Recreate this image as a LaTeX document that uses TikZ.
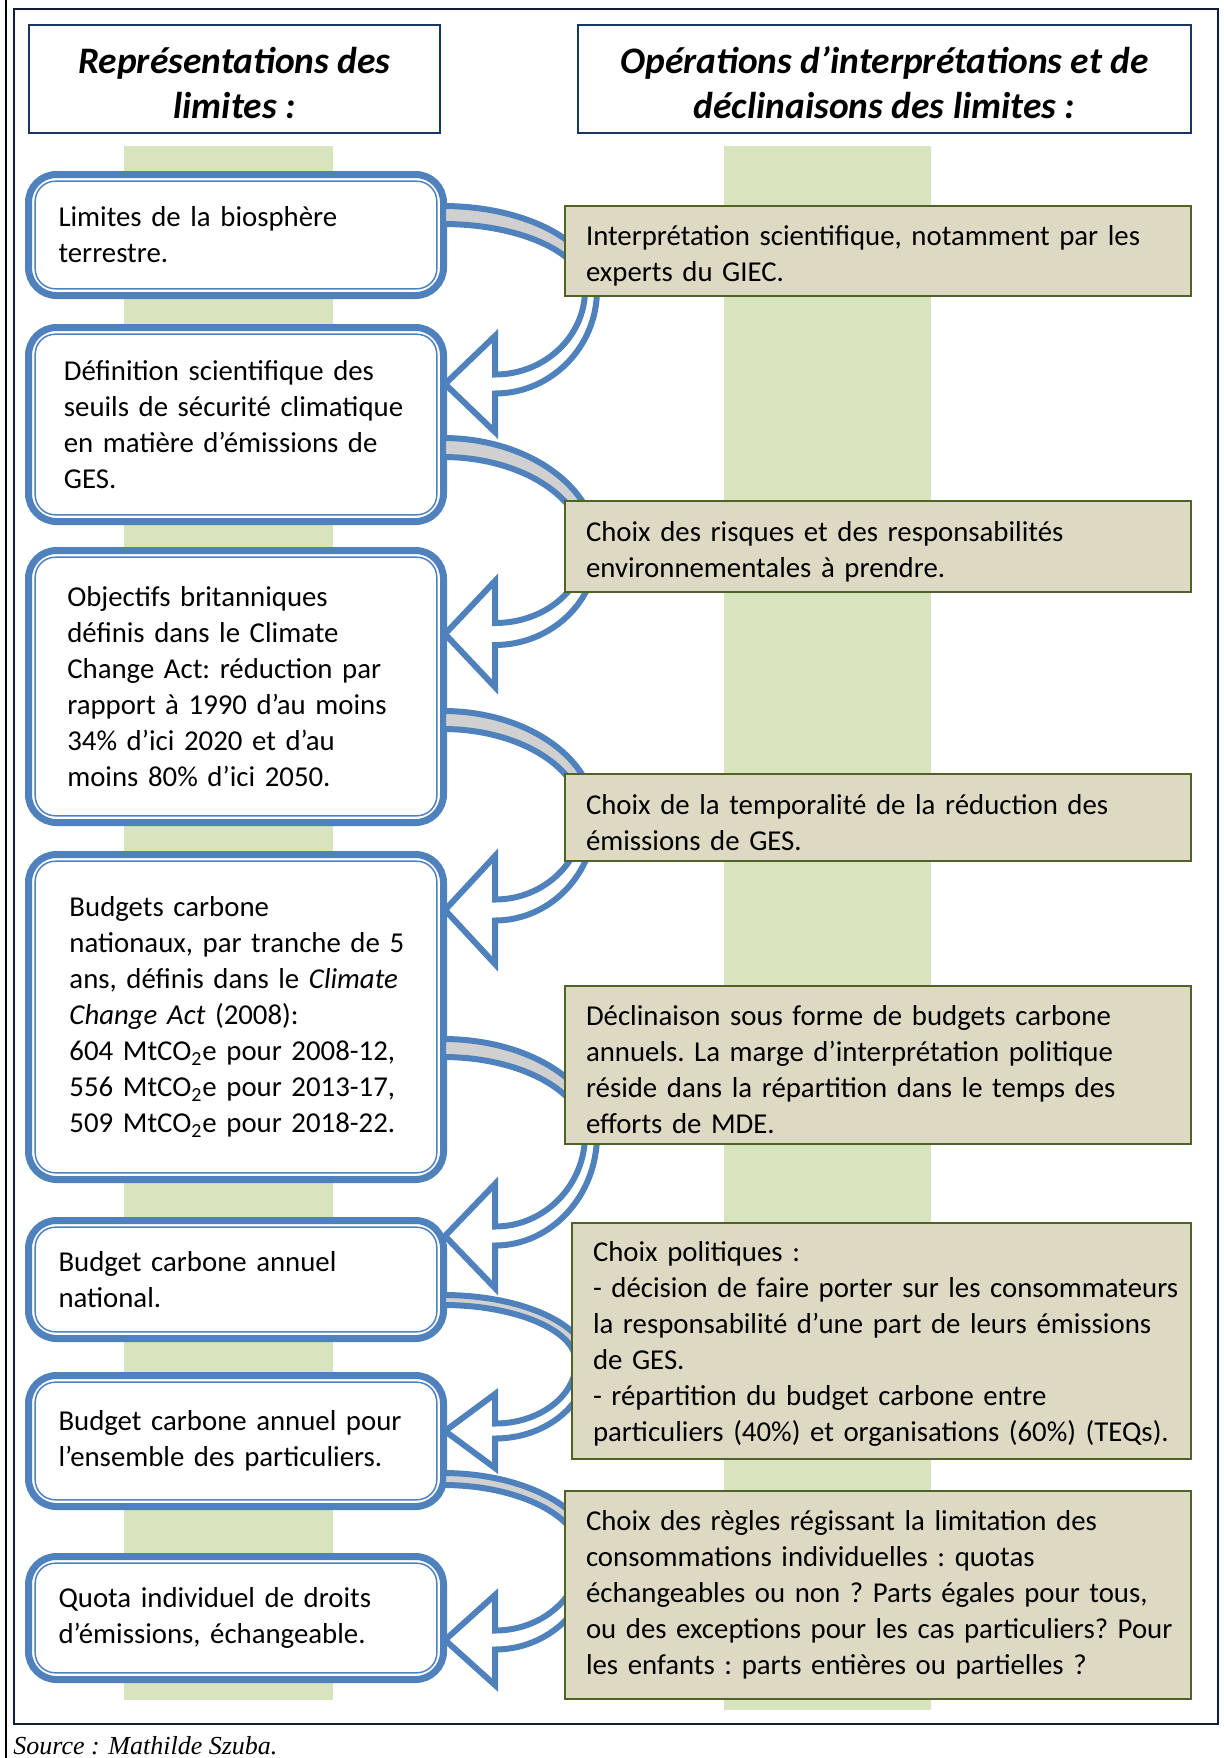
\documentclass[tikz,border=0pt]{standalone}
\usepackage{fontspec}
\setmainfont{Carlito}
\newfontfamily\sourcefont{Liberation Serif}
\usepackage{tikz}
\definecolor{arrblue}{HTML}{4F81BD}
\definecolor{colgreen}{HTML}{D7E4BD}
\definecolor{khaki}{HTML}{DDD9C3}
\definecolor{olivebd}{HTML}{4F6228}
\definecolor{bandgray}{HTML}{D0D0D0}
\definecolor{navyline}{HTML}{17375E}
\definecolor{frameline}{HTML}{0F1F3A}
\newcommand{\bodyfont}{\fontsize{14.4pt}{18pt}\selectfont\frenchspacing}
\newcommand{\headfont}{\fontsize{18.7pt}{22.5pt}\selectfont\bfseries\itshape}
% curved block arrow: band top, band width, right x, middle y, head y, half head, shaft
\newcommand{\limitarrow}[7]{%
  \filldraw[blockarr, fill=bandgray]
    (443,#1) .. controls ({443+0.55*(#3-443)},#1) and (#3,{#4-0.55*(#4-#1)}) .. (#3,#4)
    -- ({#3-12},#4)
    .. controls ({#3-12},{#4-0.55*(#4-#1-#2)}) and ({443+0.55*(#3-455)},{#1+#2}) .. (443,{#1+#2})
    -- cycle;
  \filldraw[blockarr, fill=white]
    (#3,#4) .. controls (#3,{#4+0.55*(#5+#7/2-#4)}) and ({495+0.55*(#3-495)},{#5+#7/2}) .. (495,{#5+#7/2})
    -- (495,{#5+#6}) -- (445,#5) -- (495,{#5-#6}) -- (495,{#5-#7/2})
    .. controls ({495+0.55*(#3-507)},{#5-#7/2}) and ({#3-12},{#4+0.55*(#5-#7/2-#4)}) .. ({#3-12},#4)
    -- cycle;
}

\begin{document}
\begin{tikzpicture}[x=0.5pt, y=-0.5pt,
    lbox/.style={draw=arrblue, line width=3.5pt, rounded corners=14pt, fill=white,
                 outer sep=0pt, minimum width=207.5pt, inner xsep=15pt, inner ysep=3pt,
                 text width=177.5pt, align=left, font=\bodyfont},
    textshift/.style={execute at begin node={\leftskip=#1}},
    lline/.style={draw=arrblue, line width=0.75pt, rounded corners=10pt},
    rbox/.style={draw=olivebd, line width=1.25pt, fill=khaki, outer sep=0pt,
                 minimum width=313pt, inner xsep=10.5pt, inner ysep=3pt,
                 text width=292pt, align=left, font=\bodyfont,
                 execute at begin node={\rightskip=-8pt plus 1fil\rule{0pt}{#1}}},
    rbox/.default=15pt,
    hbox/.style={draw=navyline, line width=1pt, fill=white, minimum height=54pt,
                 align=center, font=\headfont},
    blockarr/.style={draw=arrblue, line width=3pt}
  ]
  \useasboundingbox (0,0) rectangle (1223,1758);
  % Frame
  \draw[line width=1pt] (6,0) -- (6,1758);
  \draw[frameline, line width=1.2pt] (14,9) rectangle (1218,1724);
  % Green columns
  \fill[colgreen] (124,146) rectangle (333,1700);
  \fill[colgreen] (724,146) rectangle (931,1710);
  % Column headers
  \node[hbox, minimum width=205.5pt] (H1) at (234.5,79)
    {\rule{0pt}{17pt}Représentations des\\limites :};
  \node[hbox, minimum width=306.5pt] (H2) at (884.5,79)
    {\rule{0pt}{17pt}Opérations d’interprétations et de\\déclinaisons des limites :};
  % Representations of the limits
  \node[lbox, minimum height=60.5pt] (L1) at (236,235)
    {Limites de la biosphère\\terrestre.};
  \node[lbox, textshift=2.7pt, minimum height=97pt] (L2) at (236,424.5)
    {Définition scientifique des\\seuils de sécurité climatique\\en matière d’émissions de\\GES.};
  \node[lbox, textshift=4.4pt, minimum height=136pt] (L3) at (236,686.5)
    {Objectifs britanniques\\définis dans le Climate\\Change Act: réduction par\\rapport à 1990 d’au moins\\34\% d’ici 2020 et d’au\\moins 80\% d’ici 2050.};
  \node[lbox, textshift=5.5pt, minimum height=162.5pt] (L4) at (236,1017)
    {Budgets carbone\\nationaux, par tranche de 5\\ans, définis dans le \textit{Climate}\\\textit{Change Act} (2008):\\604 MtCO\textsubscript{2}e pour 2008-12,\\556 MtCO\textsubscript{2}e pour 2013-17,\\509 MtCO\textsubscript{2}e pour 2018-22.};
  \node[lbox, minimum height=59pt] (L5) at (236,1279.5)
    {Budget carbone annuel\\national.};
  \node[lbox, minimum height=65.5pt] (L6) at (236,1441)
    {Budget carbone annuel pour\\l’ensemble des particuliers.};
  \node[lbox, minimum height=61.5pt] (L7) at (236,1618)
    {Quota individuel de droits\\d’émissions, échangeable.};
  \foreach \n in {L1,L2,L3,L4,L5,L6,L7}
    \draw[lline] ([shift={(6.7,6.7)}]\n.north west) rectangle ([shift={(-6.7,-6.7)}]\n.south east);
  % Curved arrows (L_k -> R_k -> L_k+1)
  \limitarrow{206}{18}{597}{290}{384}{48}{19}
  \limitarrow{438}{19}{597}{548}{634}{53}{22}
  \limitarrow{711}{18}{595}{817}{910}{54}{21}
  \limitarrow{1039}{18}{597}{1135}{1236}{52}{19}
  \limitarrow{1295}{10}{588}{1362}{1431}{37}{15}
  \limitarrow{1473}{12}{593}{1555}{1640}{45}{19}
  % Operations of interpretation
  \node[rbox, minimum height=45pt] (R1) at (878,251)
    {Interprétation scientifique, notamment par les\\experts du GIEC.};
  \node[rbox, minimum height=45.5pt] (R2) at (878,546.5)
    {Choix des risques et des responsabilités\\environnementales à prendre.};
  \node[rbox, minimum height=43.5pt] (R3) at (878,817.5)
    {Choix de la temporalité de la réduction des\\émissions de GES.};
  \node[rbox, minimum height=79pt] (R4) at (878,1065)
    {Déclinaison sous forme de budgets carbone\\annuels. La marge d’interprétation politique\\réside dans la répartition dans le temps des\\efforts de MDE.};
  \node[rbox=13pt, minimum width=309.5pt, text width=288.5pt, minimum height=118pt] (R5) at (881.5,1341)
    {Choix politiques :\\- décision de faire porter sur les consommateurs\\la responsabilité d’une part de leurs émissions\\de GES.\\- répartition du budget carbone entre\\particuliers (40\%) et organisations (60\%) (TEQs).};
  \node[rbox=9pt, minimum height=104pt] (R6) at (878,1595)
    {Choix des règles régissant la limitation des\\consommations individuelles : quotas\\échangeables ou non ? Parts égales pour tous,\\ou des exceptions pour les cas particuliers? Pour\\les enfants : parts entières ou partielles ?};
  % Source
  \node[anchor=base west, inner sep=0pt, font=\sourcefont\itshape\fontsize{13pt}{15pt}\selectfont] (src) at (13,1754)
    {Source : Mathilde Szuba.};
\end{tikzpicture}
\end{document}
